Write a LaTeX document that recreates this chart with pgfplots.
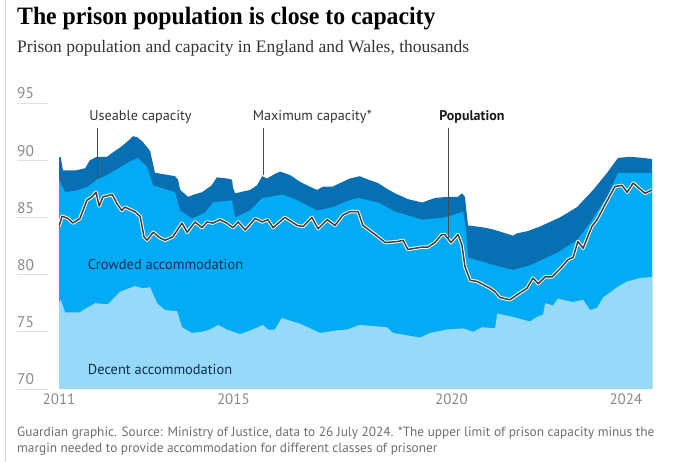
\documentclass[border=0pt]{standalone}
\usepackage{pgfplots}
\pgfplotsset{compat=1.18}
\usepackage{fontspec}
\setmainfont{PT Sans}
\newfontfamily\titlefont[FakeStretch=0.95]{Liberation Serif}
\newfontfamily\subfont{Liberation Serif}
\definecolor{darkband}{HTML}{0870B2}
\definecolor{midband}{HTML}{02ABF3}
\definecolor{lightband}{HTML}{96D9F9}
\definecolor{popline}{HTML}{3F3F3F}
\definecolor{navy}{HTML}{0C2D52}
\definecolor{ticktext}{HTML}{8A8A8A}
\definecolor{foot}{HTML}{6E6E6E}
\begin{document}
\begin{tikzpicture}[x=1bp,y=1bp]
\useasboundingbox (0,0) rectangle (680,462);
\draw[black!15, line width=0.8bp] (5,0) -- (5,462);
% title and subtitle
\node[anchor=base west, inner sep=0] at (17,437) {\titlefont\bfseries\fontsize{25bp}{28bp}\selectfont The prison population is close to capacity};
\node[anchor=base west, inner sep=0] at (17,409) {\subfont\fontsize{17.5bp}{20bp}\selectfont\color{black!80}Prison population and capacity in England and Wales, thousands};
% y labels and short gridlines
\foreach \v/\yy in {95/103,90/160.2,85/217.4,80/274.6,75/331.8,70/389} {
  \draw[black!12, line width=0.8bp] (17,462-\yy) -- (48,462-\yy);
  \node[anchor=base west, inner sep=0, text=ticktext] at (17,462-\yy+4) {\fontsize{15.5bp}{17bp}\selectfont\v};
}
\begin{axis}[
  at={(59bp,73bp)}, anchor=south west,
  scale only axis, width=593bp, height=286bp,
  xmin=2011, xmax=2024.6, ymin=70, ymax=95,
  axis line style={draw=none},
  major tick length=0pt,
  xtick={2011,2015,2020,2024},
  xticklabels={2011,2015,2020,2024},
  xticklabel style={text=ticktext, font=\fontsize{15bp}{17bp}\selectfont, yshift=-1bp},
  ytick=\empty,
  clip mode=individual,
]
% maximum capacity
\addplot[fill=darkband, draw=none] table {
2011.00 90.2
2011.04 90.3
2011.09 89.1
2011.37 89.1
2011.60 89.3
2011.71 90.0
2011.87 90.3
2012.10 90.3
2012.28 90.8
2012.40 91.1
2012.56 91.6
2012.70 92.1
2012.80 92.0
2012.92 91.6
2013.09 90.8
2013.16 89.6
2013.20 88.9
2013.66 88.6
2013.73 88.3
2013.78 87.4
2013.96 86.8
2014.10 87.0
2014.28 87.2
2014.50 87.8
2014.62 88.5
2014.85 88.4
2014.97 88.3
2014.99 87.6
2015.04 87.1
2015.15 87.2
2015.38 87.4
2015.54 87.8
2015.66 88.6
2015.77 88.4
2015.95 88.8
2016.07 89.0
2016.30 88.7
2016.53 88.1
2016.80 87.6
2016.92 87.4
2017.06 87.7
2017.28 87.7
2017.67 88.4
2017.90 88.6
2018.02 88.4
2018.32 88.0
2018.52 87.5
2018.71 87.1
2019.00 86.6
2019.33 86.3
2019.62 86.7
2019.92 86.8
2020.15 86.8
2020.24 87.1
2020.31 86.8
2020.36 85.0
2020.38 84.3
2020.77 84.1
2021.00 83.9
2021.41 83.4
2021.50 83.6
2021.75 83.8
2022.03 84.2
2022.49 85.0
2022.88 85.9
2023.25 87.4
2023.57 88.9
2023.82 90.2
2024.10 90.3
2024.39 90.2
2024.60 90.1
} \closedcycle;
% useable capacity
\addplot[fill=midband, draw=none] table {
2011.00 88.3
2011.14 87.2
2011.45 87.4
2011.67 87.7
2011.87 88.3
2012.10 88.7
2012.28 89.1
2012.58 89.8
2012.81 90.2
2013.02 89.4
2013.16 87.8
2013.66 87.2
2013.78 85.6
2014.05 84.9
2014.35 85.4
2014.53 86.3
2014.97 86.5
2015.00 85.8
2015.04 85.0
2015.38 85.6
2015.66 86.7
2016.14 87.0
2016.46 86.5
2016.92 85.6
2017.28 85.9
2017.67 86.5
2017.86 86.7
2018.32 86.3
2018.71 85.5
2019.33 84.8
2019.85 85.0
2020.27 85.5
2020.33 84.0
2020.38 81.5
2021.00 80.8
2021.41 80.4
2021.80 80.8
2022.42 81.9
2022.88 83.0
2023.18 84.5
2023.57 86.8
2023.82 88.9
2024.17 88.9
2024.60 88.9
} \closedcycle;
% decent accommodation
\addplot[fill=lightband, draw=none] table {
2011.00 77.6
2011.04 77.8
2011.14 76.7
2011.48 76.7
2011.60 77.0
2011.83 77.5
2012.12 77.4
2012.40 78.5
2012.74 79.0
2012.93 78.8
2013.09 78.9
2013.25 77.5
2013.43 76.9
2013.71 76.8
2013.82 75.4
2014.05 74.9
2014.28 75.0
2014.46 75.2
2014.65 75.6
2014.85 75.2
2015.15 74.8
2015.38 75.1
2015.68 75.6
2015.79 75.2
2015.95 75.2
2016.11 76.2
2016.53 75.7
2016.99 74.9
2017.33 75.1
2017.61 75.2
2017.90 75.6
2018.52 75.4
2018.66 74.9
2019.28 74.5
2019.51 74.9
2019.90 75.2
2020.27 75.3
2020.50 75.0
2020.70 75.4
2021.00 75.3
2021.05 76.6
2021.41 76.3
2021.80 75.9
2021.96 76.3
2022.10 76.5
2022.15 77.5
2022.33 77.3
2022.44 77.9
2022.79 77.6
2023.02 77.8
2023.18 76.9
2023.34 77.1
2023.48 78.0
2023.80 78.9
2024.03 79.4
2024.33 79.7
2024.60 79.8
} \closedcycle;
% population
\pgfplotstableread{
x y
2011.00 84.2
2011.07 85.1
2011.21 84.9
2011.32 84.5
2011.48 84.9
2011.64 86.5
2011.76 86.8
2011.85 87.2
2011.92 86.0
2012.01 86.8
2012.12 86.9
2012.22 87.0
2012.33 86.2
2012.44 85.6
2012.51 85.9
2012.74 85.5
2012.86 85.1
2012.95 83.3
2013.02 83.0
2013.16 83.7
2013.32 83.2
2013.43 83.0
2013.61 83.3
2013.82 84.5
2013.94 83.7
2014.12 84.6
2014.28 84.1
2014.39 84.6
2014.53 84.5
2014.69 84.8
2014.85 84.5
2014.99 84.1
2015.11 84.6
2015.27 83.9
2015.50 84.9
2015.66 84.6
2015.79 84.8
2015.91 84.1
2016.18 85.0
2016.46 84.3
2016.60 84.2
2016.80 85.0
2016.94 84.0
2017.15 84.8
2017.33 84.3
2017.51 85.2
2017.67 85.5
2017.86 85.5
2017.97 84.3
2018.25 83.5
2018.48 82.8
2018.78 82.9
2018.89 83.0
2019.00 82.2
2019.33 82.4
2019.46 82.4
2019.62 82.8
2019.78 83.5
2019.85 83.5
2019.99 82.8
2020.15 83.5
2020.24 82.6
2020.31 80.7
2020.43 79.5
2020.59 79.4
2020.89 78.8
2021.00 78.5
2021.11 78.0
2021.34 77.8
2021.57 78.4
2021.73 78.8
2021.87 79.7
2021.99 79.2
2022.15 79.8
2022.31 79.8
2022.54 80.7
2022.67 81.3
2022.79 81.5
2022.90 82.9
2023.02 82.3
2023.22 84.2
2023.34 84.8
2023.52 86.1
2023.75 87.7
2023.91 87.8
2024.03 87.2
2024.17 88.0
2024.44 87.1
2024.60 87.4
}\pop
\addplot[white, line width=3.4bp, line join=round] table {\pop};
\addplot[popline, line width=1.5bp, line join=round] table {\pop};
% annotations
\draw[black!70, line width=0.8bp] (axis cs:2011.89,92.8) -- (axis cs:2011.89,88.4);
\draw[black!70, line width=0.8bp] (axis cs:2015.68,92.8) -- (axis cs:2015.68,88.7);
\draw[black!70, line width=0.8bp] (axis cs:2019.94,92.8) -- (axis cs:2019.94,83.2);
\node[text=black!80, font=\fontsize{14.2bp}{16bp}\selectfont] at (axis cs:2012.87,93.8) {Useable capacity};
\node[text=black!80, font=\fontsize{14.2bp}{16bp}\selectfont] at (axis cs:2016.81,93.8) {Maximum capacity*};
\node[text=black!90, font=\bfseries\fontsize{14bp}{16bp}\selectfont] at (axis cs:2020.47,93.8) {Population};
\node[anchor=west, inner sep=0, text=navy, font=\fontsize{14.4bp}{16bp}\selectfont] at (axis cs:2011.66,80.9) {Crowded accommodation};
\node[anchor=west, inner sep=0, text=navy, font=\fontsize{14.4bp}{16bp}\selectfont] at (axis cs:2011.66,71.7) {Decent accommodation};
\end{axis}
% footer
\node[anchor=base west, inner sep=0, text=foot] at (17,25) {\fontsize{13.3bp}{15bp}\selectfont Guardian graphic. Source: Ministry of Justice, data to 26 July 2024. *The upper limit of prison capacity minus the};
\node[anchor=base west, inner sep=0, text=foot] at (17,9) {\fontsize{13.3bp}{15bp}\selectfont margin needed to provide accommodation for different classes of prisoner};
\end{tikzpicture}
\end{document}
